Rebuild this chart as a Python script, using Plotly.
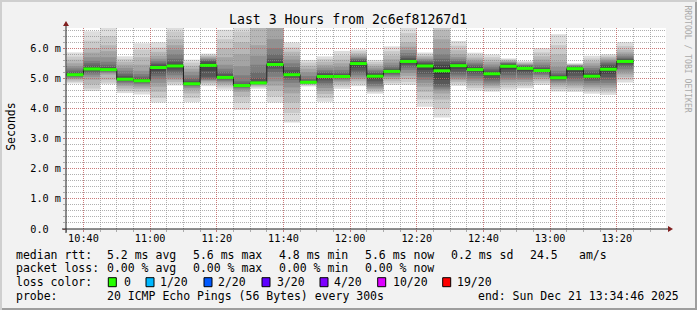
import plotly.graph_objects as go
import pandas as pd

DAY = "2025-12-21 "
RANGE_START = "10:34:46"
RANGE_END = "13:34:46"

BAR_START = ["10:35", "10:40", "10:45", "10:50", "10:55", "11:00", "11:05", "11:10",
             "11:15", "11:20", "11:25", "11:30", "11:35", "11:40", "11:45", "11:50",
             "11:55", "12:00", "12:05", "12:10", "12:15", "12:20", "12:25", "12:30",
             "12:35", "12:40", "12:45", "12:50", "12:55", "13:00", "13:05", "13:10",
             "13:15", "13:20"]

MEDIAN_MS = [5.12, 5.31, 5.29, 4.97, 4.92, 5.36, 5.41, 4.82, 5.43, 5.03, 4.76, 4.85,
             5.46, 5.12, 4.87, 5.06, 5.06, 5.49, 5.07, 5.23, 5.56, 5.41, 5.25, 5.42,
             5.29, 5.15, 5.40, 5.33, 5.26, 5.02, 5.32, 5.07, 5.30, 5.56]

# 20 sorted ping RTTs (ms) per 5-minute step, as read from the smoke shading
PINGS_MS = [
    [4.83, 4.88, 4.93, 4.97, 5.00, 5.03, 5.06, 5.08, 5.10, 5.11, 5.13, 5.16, 5.20, 5.26, 5.33, 5.40, 5.50, 5.62, 5.72, 5.86],
    [4.58, 4.66, 4.80, 4.95, 5.05, 5.12, 5.18, 5.23, 5.27, 5.30, 5.32, 5.36, 5.42, 5.50, 5.58, 5.70, 5.85, 6.00, 6.25, 6.56],
    [4.80, 4.86, 4.95, 5.12, 5.17, 5.20, 5.23, 5.25, 5.27, 5.28, 5.30, 5.33, 5.38, 5.45, 5.55, 5.70, 5.90, 6.10, 6.40, 6.90],
    [4.51, 4.58, 4.66, 4.74, 4.80, 4.85, 4.89, 4.92, 4.95, 4.96, 4.98, 5.02, 5.08, 5.15, 5.25, 5.35, 5.45, 5.55, 5.64, 5.73],
    [4.46, 4.55, 4.64, 4.70, 4.76, 4.81, 4.85, 4.88, 4.90, 4.91, 4.93, 4.96, 5.00, 5.06, 5.14, 5.25, 5.45, 5.70, 5.95, 6.16],
    [4.20, 4.35, 4.55, 4.72, 4.85, 4.97, 5.07, 5.16, 5.25, 5.33, 5.38, 5.42, 5.47, 5.52, 5.58, 5.65, 5.75, 5.88, 6.02, 6.20],
    [4.76, 4.82, 4.88, 4.95, 5.02, 5.10, 5.18, 5.26, 5.33, 5.39, 5.43, 5.48, 5.55, 5.65, 5.80, 5.95, 6.10, 6.30, 6.55, 6.90],
    [4.21, 4.35, 4.50, 4.62, 4.68, 4.73, 4.76, 4.78, 4.80, 4.81, 4.83, 4.86, 4.92, 5.00, 5.10, 5.22, 5.32, 5.42, 5.52, 5.62],
    [4.74, 4.80, 4.85, 4.90, 4.93, 4.95, 4.98, 5.05, 5.25, 5.40, 5.46, 5.52, 5.57, 5.60, 5.63, 5.66, 5.70, 5.74, 5.78, 5.82],
    [4.62, 4.70, 4.76, 4.82, 4.87, 4.91, 4.95, 4.98, 5.00, 5.02, 5.04, 5.08, 5.14, 5.22, 5.32, 5.45, 5.70, 6.00, 6.30, 6.61],
    [3.95, 4.20, 4.40, 4.55, 4.62, 4.67, 4.70, 4.72, 4.74, 4.75, 4.77, 4.79, 4.82, 4.90, 5.10, 5.40, 5.80, 6.20, 6.55, 6.90],
    [4.65, 4.70, 4.74, 4.77, 4.79, 4.81, 4.82, 4.83, 4.84, 4.85, 4.86, 4.90, 5.00, 5.20, 5.45, 5.75, 6.10, 6.75, 6.85, 6.95],
    [4.20, 4.40, 4.60, 4.75, 4.90, 5.05, 5.20, 5.32, 5.40, 5.44, 5.48, 5.55, 5.65, 5.80, 6.00, 6.30, 6.72, 6.80, 6.90, 7.00],
    [3.53, 3.85, 4.20, 4.50, 4.70, 4.85, 4.95, 5.02, 5.07, 5.10, 5.14, 5.20, 5.28, 5.38, 5.50, 5.62, 5.75, 5.88, 6.02, 6.19],
    [4.73, 4.76, 4.79, 4.81, 4.83, 4.84, 4.85, 4.86, 4.86, 4.87, 4.88, 4.89, 4.92, 4.98, 5.08, 5.20, 5.32, 5.42, 5.52, 5.61],
    [4.22, 4.35, 4.48, 4.58, 4.68, 4.77, 4.85, 4.93, 4.99, 5.04, 5.08, 5.12, 5.17, 5.22, 5.28, 5.36, 5.45, 5.55, 5.64, 5.73],
    [4.65, 4.72, 4.80, 4.87, 4.92, 4.96, 4.99, 5.02, 5.04, 5.05, 5.07, 5.10, 5.14, 5.20, 5.28, 5.38, 5.50, 5.62, 5.76, 5.91],
    [4.74, 4.82, 4.90, 4.97, 5.03, 5.10, 5.18, 5.26, 5.36, 5.46, 5.52, 5.56, 5.60, 5.64, 5.68, 5.72, 5.77, 5.83, 5.90, 5.96],
    [4.49, 4.55, 4.60, 4.65, 4.70, 4.75, 4.82, 4.90, 4.98, 5.05, 5.09, 5.13, 5.17, 5.22, 5.27, 5.33, 5.40, 5.47, 5.54, 5.61],
    [4.78, 4.85, 4.92, 4.98, 5.04, 5.09, 5.13, 5.17, 5.20, 5.22, 5.24, 5.27, 5.31, 5.36, 5.43, 5.52, 5.63, 5.76, 5.90, 6.06],
    [4.78, 4.88, 4.98, 5.08, 5.18, 5.28, 5.36, 5.44, 5.50, 5.54, 5.58, 5.62, 5.68, 5.75, 5.84, 5.94, 6.05, 6.20, 6.50, 6.90],
    [4.06, 4.30, 4.55, 4.72, 4.85, 4.95, 5.05, 5.15, 5.28, 5.38, 5.44, 5.48, 5.52, 5.56, 5.60, 5.64, 5.69, 5.74, 5.80, 5.86],
    [3.70, 4.00, 4.30, 4.50, 4.60, 4.66, 4.72, 4.80, 4.95, 5.15, 5.35, 5.45, 5.55, 5.65, 5.80, 6.00, 6.30, 6.60, 6.80, 7.00],
    [4.75, 4.82, 4.88, 4.94, 5.00, 5.06, 5.13, 5.22, 5.32, 5.40, 5.44, 5.48, 5.52, 5.57, 5.63, 5.70, 5.80, 5.93, 6.08, 6.24],
    [4.60, 4.68, 4.76, 4.84, 4.92, 5.00, 5.08, 5.16, 5.23, 5.27, 5.31, 5.35, 5.40, 5.45, 5.50, 5.56, 5.62, 5.69, 5.77, 5.85],
    [4.56, 4.62, 4.68, 4.74, 4.80, 4.86, 4.93, 5.00, 5.08, 5.13, 5.17, 5.21, 5.26, 5.32, 5.39, 5.46, 5.54, 5.62, 5.70, 5.79],
    [4.62, 4.70, 4.78, 4.86, 4.94, 5.02, 5.10, 5.20, 5.30, 5.37, 5.42, 5.45, 5.48, 5.50, 5.52, 5.54, 5.57, 5.60, 5.63, 5.66],
    [4.67, 4.74, 4.81, 4.88, 4.95, 5.02, 5.10, 5.18, 5.25, 5.31, 5.35, 5.38, 5.40, 5.42, 5.44, 5.46, 5.48, 5.51, 5.54, 5.57],
    [4.78, 4.85, 4.92, 4.99, 5.05, 5.11, 5.16, 5.20, 5.23, 5.25, 5.27, 5.30, 5.34, 5.39, 5.45, 5.53, 5.62, 5.73, 5.86, 6.00],
    [4.56, 4.64, 4.72, 4.79, 4.85, 4.90, 4.94, 4.97, 5.00, 5.01, 5.03, 5.06, 5.10, 5.16, 5.25, 5.38, 5.55, 5.80, 6.10, 6.46],
    [4.55, 4.62, 4.69, 4.76, 4.83, 4.90, 4.98, 5.08, 5.20, 5.29, 5.34, 5.36, 5.38, 5.40, 5.42, 5.43, 5.44, 5.46, 5.48, 5.50],
    [4.49, 4.56, 4.63, 4.70, 4.77, 4.84, 4.91, 4.97, 5.02, 5.05, 5.09, 5.14, 5.20, 5.27, 5.34, 5.42, 5.50, 5.58, 5.66, 5.75],
    [4.45, 4.53, 4.61, 4.69, 4.77, 4.85, 4.94, 5.04, 5.15, 5.26, 5.34, 5.40, 5.45, 5.50, 5.55, 5.60, 5.65, 5.70, 5.75, 5.80],
    [4.86, 4.95, 5.04, 5.13, 5.22, 5.30, 5.38, 5.45, 5.50, 5.54, 5.58, 5.61, 5.64, 5.68, 5.73, 5.79, 5.86, 5.95, 6.07, 6.20],
]

STEP_MIN = 5
Y_MAX = 6.67
Y_TICKS = [0, 1, 2, 3, 4, 5, 6]
Y_TICK_TEXT = ["0.0\u00a0\u00a0", "1.0 m", "2.0 m", "3.0 m", "4.0 m", "5.0 m", "6.0 m"]
X_TICKS = ["10:40", "11:00", "11:20", "11:40", "12:00", "12:20", "12:40", "13:00", "13:20"]

LOSS_LABELS = ["0", "1/20", "2/20", "3/20", "4/20", "10/20", "19/20"]
LOSS_COLORS = ["#26ff00", "#00b8ff", "#0059ff", "#5e00ff", "#7e00ff", "#dd00ff", "#ff0000"]

# ---------------------------------------------------------------------------
W, H = 697, 310
L, T, PW, PH = 66, 28, 600, 201
FONT = "DejaVu Sans Mono"


def px(x):
    return (x - L) / PW


def py(y):
    return (T + PH - y) / PH


starts = [pd.Timestamp(DAY + s) for s in BAR_START]
ends = [s + pd.Timedelta(minutes=STEP_MIN) for s in starts]

shapes = []
# smoke: nested bands between ping i and ping n+1-i, lighter outside
half = 10
for s, e, pings in zip(starts, ends, PINGS_MS):
    p = sorted(pings)
    n = len(p)
    for ibot in range(1, half + 1):
        g = int(190 / half * (half - ibot)) + 50
        lo = p[ibot - 1]
        hi = min(p[n - ibot], Y_MAX)
        shapes.append(dict(type="rect", xref="x", yref="y", x0=s, x1=e, y0=lo, y1=hi,
                           fillcolor=f"rgb({g},{g},{g})", line=dict(width=0), layer="below"))

fig = go.Figure()

# median step line
step_x = starts + [ends[-1]]
step_y = MEDIAN_MS + [MEDIAN_MS[-1]]
fig.add_trace(go.Scatter(x=step_x, y=step_y, mode="lines", line=dict(color="#1a1a1a", width=1, shape="hv"),
                         hoverinfo="skip"))
# median in loss colour (0 loss)
gx, gy = [], []
for s, e, m in zip(starts, ends, MEDIAN_MS):
    gx += [s, e, None]
    gy += [m, m, None]
fig.add_trace(go.Scatter(x=gx, y=gy, mode="lines", line=dict(color=LOSS_COLORS[0], width=3),
                         hoverinfo="skip"))

AXIS = "#1f1f1f"
ARROW = "#801f1f"
# axis lines (extend 4px past the plot like rrdtool)
shapes.append(dict(type="line", xref="paper", yref="paper", x0=px(L - 4), x1=px(L + PW + 4), y0=0, y1=0,
                   line=dict(color=AXIS, width=1), layer="above"))
shapes.append(dict(type="line", xref="paper", yref="paper", x0=0, x1=0, y0=py(T + PH + 4), y1=py(T - 4),
                   line=dict(color=AXIS, width=1), layer="above"))
# arrows
ax_y = T + PH
shapes.append(dict(type="path", xref="paper", yref="paper",
                   path=f"M {px(L+PW+2)},{py(ax_y-3)} L {px(L+PW+2)},{py(ax_y+3)} L {px(L+PW+7)},{py(ax_y)} Z",
                   fillcolor=ARROW, line=dict(width=0), layer="above"))
shapes.append(dict(type="path", xref="paper", yref="paper",
                   path=f"M {px(L-3)},{py(T-2)} L {px(L+3)},{py(T-2)} L {px(L)},{py(T-7)} Z",
                   fillcolor=ARROW, line=dict(width=0), layer="above"))
# 3d frame
shapes.append(dict(type="rect", xref="paper", yref="paper", x0=px(0), x1=px(W), y0=py(2), y1=py(0),
                   fillcolor="#cfcfcf", line=dict(width=0), layer="above"))
shapes.append(dict(type="rect", xref="paper", yref="paper", x0=px(0), x1=px(2), y0=py(H), y1=py(0),
                   fillcolor="#cfcfcf", line=dict(width=0), layer="above"))
shapes.append(dict(type="rect", xref="paper", yref="paper", x0=px(2), x1=px(W), y0=py(H), y1=py(H - 2),
                   fillcolor="#9e9e9e", line=dict(width=0), layer="above"))
shapes.append(dict(type="rect", xref="paper", yref="paper", x0=px(W - 2), x1=px(W), y0=py(H), y1=py(2),
                   fillcolor="#9e9e9e", line=dict(width=0), layer="above"))

annotations = []


def text(x, y, s, size=11.5, color="black", anchor="left", angle=0):
    annotations.append(dict(xref="paper", yref="paper", x=px(x), y=py(y), text=s, showarrow=False,
                            xanchor=anchor, yanchor="middle", textangle=angle, borderpad=0, borderwidth=0,
                            font=dict(family=FONT, size=size, color=color)))


# legend rows
R1, R2, R3, R4 = 254.5, 268.3, 282.2, 296
text(16, R1, "median rtt:")
text(107, R1, "5.2 ms avg")
text(193.3, R1, "5.6 ms max")
text(279.3, R1, "4.8 ms min")
text(365, R1, "5.6 ms now")
text(451, R1, "0.2 ms sd")
text(530, R1, "24.5")
text(579.3, R1, "am/s")
text(16, R2, "packet loss:")
text(107, R2, "0.00 % avg")
text(193.3, R2, "0.00 % max")
text(279.3, R2, "0.00 % min")
text(365, R2, "0.00 % now")
text(16, R3, "loss color:")
box_x = [108.3, 146, 204, 262, 320, 377.7, 442.7]
lbl_x = [124, 160, 218, 277, 334.3, 392.7, 457.3]
for bx, lx, lab, col in zip(box_x, lbl_x, LOSS_LABELS, LOSS_COLORS):
    shapes.append(dict(type="rect", xref="paper", yref="paper", x0=px(bx), x1=px(bx + 8),
                       y0=py(R3 + 4.5), y1=py(R3 - 4.5), fillcolor=col,
                       line=dict(color="black", width=1), layer="above"))
    text(lx, R3, lab)
text(16, R4, "probe:")
text(107, R4, "20 ICMP Echo Pings (56 Bytes) every 300s")
text(478.3, R4, "end: Sun Dec 21 13:34:46 2025")

# axis title and watermark
text(10.8, 127, "Seconds", anchor="center", angle=-90)
text(687.5, 59, "RRDTOOL / TOBI OETIKER", size=8.1, color="#aaaaaa", anchor="center", angle=90)
# title
text(347.7, 19, "Last 3 Hours from 2c6ef81267d1", size=13.2, anchor="center")

MGRID = "rgba(222,79,79,0.55)"
GRID = "rgba(143,143,143,0.7)"

fig.update_layout(
    width=W, height=H,
    margin=dict(l=L, r=W - L - PW, t=T, b=H - T - PH, pad=0),
    paper_bgcolor="#f2f2f2", plot_bgcolor="#ffffff",
    showlegend=False,
    font=dict(family=FONT, color="black"),
    shapes=shapes,
    annotations=annotations,
    xaxis=dict(
        type="date", range=[DAY + RANGE_START, DAY + RANGE_END],
        tickmode="array", tickvals=[DAY + t for t in X_TICKS], ticktext=X_TICKS,
        showgrid=True, gridcolor=MGRID, griddash="1px,1px", gridwidth=1,
        ticks="outside", ticklen=2, tickcolor=MGRID, tickwidth=1, ticklabelstandoff=-2,
        tickfont=dict(family=FONT, size=10.2, color="black"),
        minor=dict(dtick=STEP_MIN * 60000, tick0=DAY + BAR_START[0], showgrid=True, gridcolor=GRID,
                   griddash="1px,1px", gridwidth=1, ticks="outside", ticklen=2, tickcolor=GRID),
        showline=False, zeroline=False, fixedrange=True,
    ),
    yaxis=dict(
        range=[0, Y_MAX], tickmode="array", tickvals=Y_TICKS, ticktext=Y_TICK_TEXT,
        showgrid=True, gridcolor=MGRID, griddash="1px,1px", gridwidth=1,
        ticks="outside", ticklen=2, tickcolor=MGRID, tickwidth=1,
        tickfont=dict(family=FONT, size=10.2, color="black"),
        minor=dict(dtick=0.2, tick0=0, showgrid=True, gridcolor=GRID, griddash="1px,1px", gridwidth=1,
                   ticks="outside", ticklen=2, tickcolor=GRID),
        showline=False, zeroline=False, fixedrange=True,
    ),
)

fig.write_html("out.html")
